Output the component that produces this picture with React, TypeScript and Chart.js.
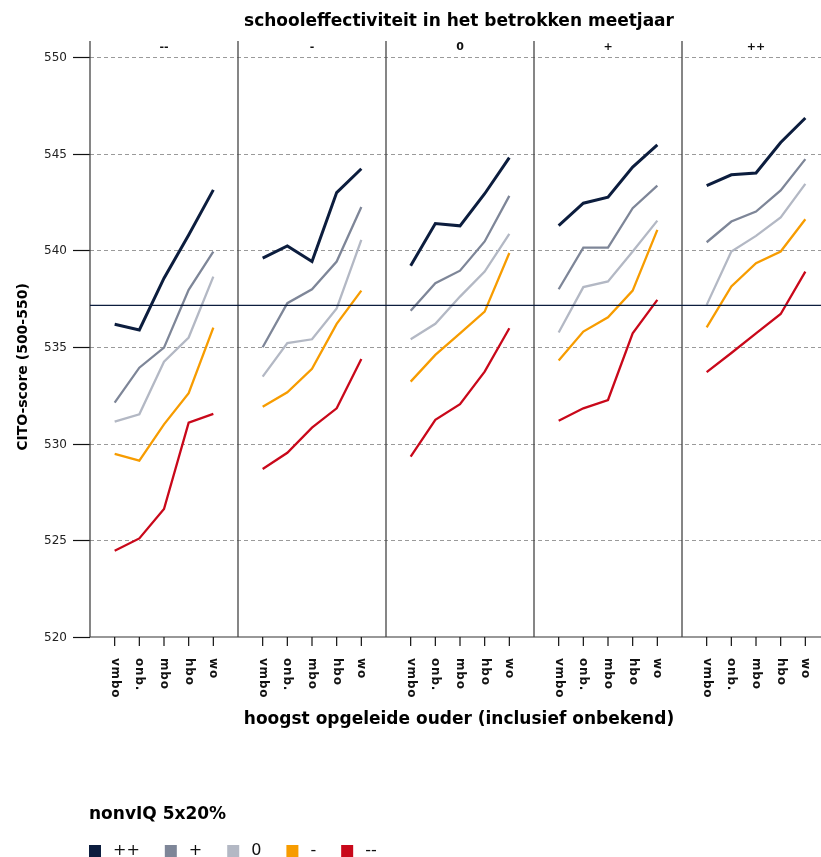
import React, { useEffect, useRef } from 'react';
import { Chart, registerables } from 'chart.js';

Chart.register(...registerables);

const chartTitle = 'schooleffectiviteit in het betrokken meetjaar';
const xAxisTitle = 'hoogst opgeleide ouder (inclusief onbekend)';
const yAxisTitle = 'CITO-score (500-550)';
const legendTitle = 'nonvIQ 5x20%';

const panels = ['--', '-', '0', '+', '++'];
const categories = ['vmbo', 'onb.', 'mbo', 'hbo', 'wo'];
const seriesNames = ['++', '+', '0', '-', '--'];
const seriesColors = ['#0c1d3e', '#7e8698', '#b3b8c4', '#f79c00', '#c9081a'];
const seriesWidths = [3, 2.3, 2.3, 2.3, 2.3];
const yTicks = [520, 525, 530, 535, 540, 545, 550];
const referenceScore = 537.15;

// one row per panel (--, -, 0, +, ++), one value per category (vmbo, onb., mbo, hbo, wo)
const scoresPlusPlus = [
  [536.18, 535.88, 538.56, 540.8, 543.13],
  [539.6, 540.23, 539.42, 542.99, 544.22],
  [539.21, 541.39, 541.27, 542.93, 544.8],
  [541.28, 542.44, 542.75, 544.31, 545.46],
  [543.35, 543.91, 544.0, 545.58, 546.85],
];
const scoresPlus = [
  [532.12, 533.93, 534.97, 537.96, 539.94],
  [534.99, 537.27, 537.99, 539.42, 542.24],
  [536.88, 538.3, 538.95, 540.46, 542.82],
  [537.99, 540.14, 540.14, 542.18, 543.35],
  [540.42, 541.49, 542.01, 543.1, 544.72],
];
const scoresZero = [
  [531.14, 531.52, 534.24, 535.49, 538.64],
  [533.47, 535.2, 535.4, 537.0, 540.54],
  [535.4, 536.2, 537.61, 538.9, 540.85],
  [535.75, 538.1, 538.39, 539.94, 541.54],
  [537.18, 539.94, 540.75, 541.7, 543.44],
];
const scoresMin = [
  [529.47, 529.12, 531.0, 532.61, 536.0],
  [531.91, 532.66, 533.87, 536.2, 537.92],
  [533.21, 534.59, 535.71, 536.83, 539.86],
  [534.3, 535.8, 536.54, 537.92, 541.06],
  [536.02, 538.13, 539.34, 539.94, 541.61],
];
const scoresMinMin = [
  [524.46, 525.1, 526.62, 531.09, 531.54],
  [528.69, 529.53, 530.83, 531.83, 534.38],
  [529.33, 531.23, 532.04, 533.73, 535.97],
  [531.19, 531.83, 532.26, 535.71, 537.44],
  [533.7, 534.69, 535.71, 536.71, 538.9],
];

const seriesScores = [scoresPlusPlus, scoresPlus, scoresZero, scoresMin, scoresMinMin];

const SLOTS = 6; // slots per panel: categories at 1..5
const FONT = '"DejaVu Sans", Verdana, sans-serif';

function buildPoints(rows: number[][]) {
  const pts: { x: number; y: number | null }[] = [];
  rows.forEach((row, p) => {
    row.forEach((v, c) => pts.push({ x: p * SLOTS + c + 1, y: v }));
    if (p < rows.length - 1) pts.push({ x: p * SLOTS + SLOTS, y: null });
  });
  return pts;
}

const facetPlugin = {
  id: 'facetPlugin',
  beforeDatasetsDraw(chart: any) {
    const { ctx, chartArea, scales } = chart;
    const xs = scales.x;
    const ys = scales.y;
    const { left, right, top, bottom } = chartArea;
    ctx.save();

    // dashed horizontal grid
    ctx.strokeStyle = '#9a9a9a';
    ctx.lineWidth = 1;
    ctx.setLineDash([4, 3]);
    yTicks.slice(1).forEach((t) => {
      const y = Math.round(ys.getPixelForValue(t)) + 0.5;
      ctx.beginPath();
      ctx.moveTo(left, y);
      ctx.lineTo(right, y);
      ctx.stroke();
    });
    ctx.setLineDash([]);

    // y tick marks + labels
    ctx.strokeStyle = '#111';
    ctx.lineWidth = 1.2;
    ctx.fillStyle = '#222';
    ctx.font = `12px ${FONT}`;
    ctx.textAlign = 'right';
    ctx.textBaseline = 'middle';
    yTicks.forEach((t) => {
      const y = Math.round(ys.getPixelForValue(t)) + 0.5;
      ctx.beginPath();
      ctx.moveTo(left - 17, y);
      ctx.lineTo(left, y);
      ctx.stroke();
      ctx.fillText(String(t), left - 23, y);
    });

    // bottom axis line
    ctx.strokeStyle = '#333';
    ctx.lineWidth = 1.2;
    ctx.beginPath();
    ctx.moveTo(left, bottom);
    ctx.lineTo(right, bottom);
    ctx.stroke();

    // panel separators
    ctx.strokeStyle = '#444';
    ctx.lineWidth = 1.3;
    for (let p = 0; p <= panels.length; p++) {
      const x = xs.getPixelForValue(p * SLOTS);
      ctx.beginPath();
      ctx.moveTo(x, top);
      ctx.lineTo(x, bottom);
      ctx.stroke();
    }

    // x tick marks + rotated labels
    ctx.strokeStyle = '#111';
    ctx.lineWidth = 1.2;
    ctx.fillStyle = '#111';
    ctx.font = `bold 12px ${FONT}`;
    panels.forEach((_, p) => {
      categories.forEach((cat, c) => {
        const x = xs.getPixelForValue(p * SLOTS + c + 1);
        ctx.beginPath();
        ctx.moveTo(x, bottom);
        ctx.lineTo(x, bottom + 9);
        ctx.stroke();
        ctx.save();
        ctx.translate(x, bottom + 21);
        ctx.rotate(Math.PI / 2);
        ctx.textAlign = 'left';
        ctx.textBaseline = 'middle';
        (ctx as any).letterSpacing = '0.8px';
        ctx.fillText(cat, 0, 0);
        ctx.restore();
      });
    });

    // facet labels
    ctx.font = `bold 11px ${FONT}`;
    ctx.textAlign = 'center';
    ctx.textBaseline = 'middle';
    panels.forEach((lab, p) => {
      const x = xs.getPixelForValue(p * SLOTS + SLOTS / 2);
      ctx.fillText(lab, x, top + 6);
    });

    const midX = (xs.getPixelForValue(0) + xs.getPixelForValue(panels.length * SLOTS)) / 2;

    // title
    ctx.fillStyle = '#000';
    ctx.font = `bold 17px ${FONT}`;
    ctx.textAlign = 'center';
    ctx.textBaseline = 'middle';
    ctx.fillText(chartTitle, midX - 1, 22);

    // x axis title
    ctx.fillText(xAxisTitle, midX - 1, 720);

    // y axis title
    ctx.save();
    ctx.translate(23, 367);
    ctx.rotate(-Math.PI / 2);
    ctx.font = `bold 14px ${FONT}`;
    ctx.fillText(yAxisTitle, 0, 0);
    ctx.restore();

    // legend
    ctx.textAlign = 'left';
    ctx.font = `bold 17px ${FONT}`;
    ctx.fillText(legendTitle, 89, 815);
    ctx.font = `16px ${FONT}`;
    let lx = 89;
    seriesNames.forEach((name, i) => {
      ctx.fillStyle = seriesColors[i];
      ctx.fillRect(lx, 845, 12, 12);
      ctx.fillStyle = '#111';
      const tx = lx + 24;
      ctx.fillText(name, tx, 851);
      lx = tx + ctx.measureText(name).width + 25;
    });

    ctx.restore();
  },
  afterDatasetsDraw(chart: any) {
    const { ctx, chartArea, scales } = chart;
    const y = scales.y.getPixelForValue(referenceScore);
    ctx.save();
    ctx.strokeStyle = '#0c1d3e';
    ctx.lineWidth = 1.3;
    ctx.beginPath();
    ctx.moveTo(chartArea.left, y);
    ctx.lineTo(chartArea.right, y);
    ctx.stroke();
    ctx.restore();
  },
};

export default function App() {
  const ref = useRef<HTMLCanvasElement | null>(null);

  useEffect(() => {
    if (!ref.current) return;
    const datasets = seriesNames.map((name, i) => ({
      label: name,
      data: buildPoints(seriesScores[i]),
      borderColor: seriesColors[i],
      backgroundColor: seriesColors[i],
      borderWidth: seriesWidths[i],
      pointRadius: 0,
      pointHoverRadius: 0,
      tension: 0,
      spanGaps: false,
      fill: false,
    }));
    const chart = new Chart(ref.current, {
      type: 'line',
      data: { datasets },
      options: {
        responsive: false,
        animation: false,
        devicePixelRatio: 1,
        layout: { padding: { left: 90, top: 41, right: 0, bottom: 220 } },
        plugins: { legend: { display: false }, tooltip: { enabled: false }, title: { display: false } },
        scales: {
          x: { type: 'linear', display: false, min: 0, max: 29.635 },
          y: { type: 'linear', display: false, min: 520, max: 550.83 },
        },
      },
      plugins: [facetPlugin],
    });
    return () => chart.destroy();
  }, []);

  return (
    <div style={{ position: 'absolute', left: 0, top: 0, width: 821, height: 857, background: '#fff' }}>
      <canvas ref={ref} width={821} height={857} style={{ width: 821, height: 857, display: 'block' }} />
    </div>
  );
}
